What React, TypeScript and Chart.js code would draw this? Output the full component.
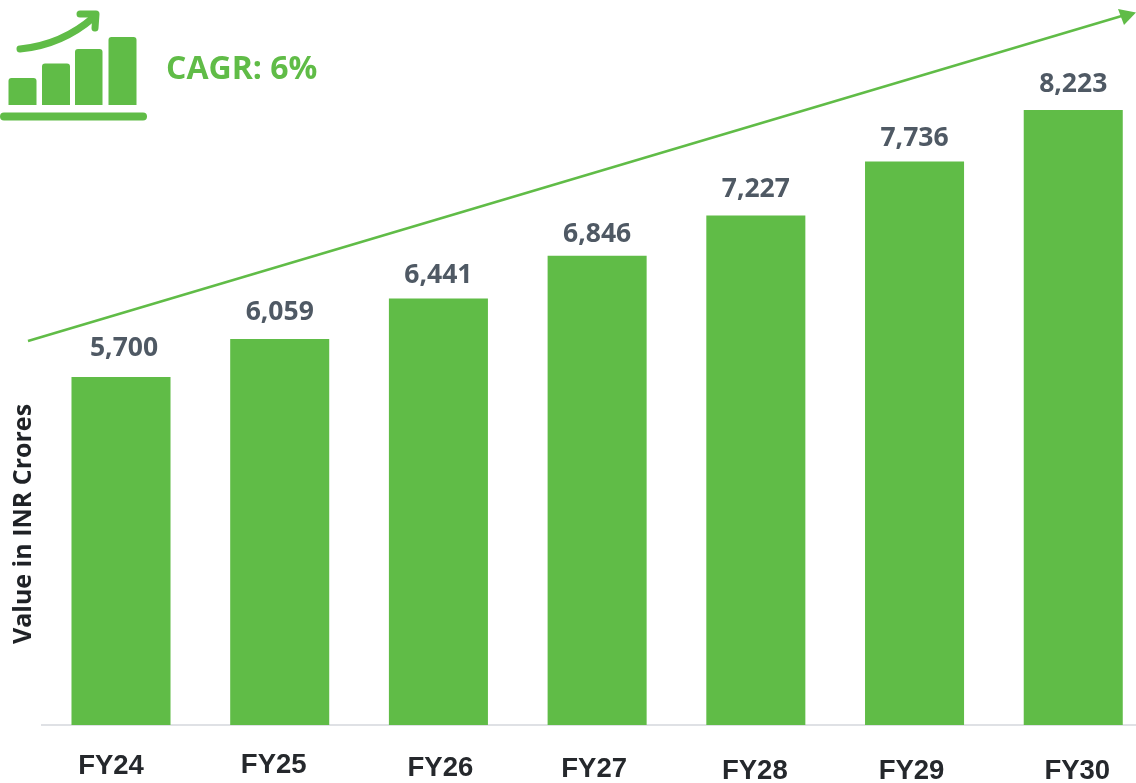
import React, { useEffect, useRef } from "react";
import { Chart, registerables } from "chart.js";

Chart.register(...registerables);

const categories = ["FY24", "FY25", "FY26", "FY27", "FY28", "FY29", "FY30"];
const values = [5700, 6059, 6441, 6846, 7227, 7736, 8223];
const tickY = [766, 765, 768, 769, 771, 771, 771];
const tickDx = [-10, -6, 2, -3, -1, -3, 4];
const valueDx = [3, 0, 0, 0, 0, 0, 0];
const valueDy = [-28, -26, -23, -21, -26, -23, -26];
const axisTitle = "Value in INR Crores";
const cagrText = "CAGR: 6%";
const GREEN = "#60bc47";
const LABEL_COLOR = "#4f5964";
const TICK_COLOR = "#25282c";

const decorPlugin = {
  id: "decor",
  afterDraw(chart: any) {
    const { ctx, scales } = chart;
    const x = scales.x;
    const y = scales.y;
    ctx.save();
    ctx.textAlign = "center";
    ctx.textBaseline = "middle";

    ctx.font = 'bold 26.5px "Open Sans"';
    ctx.fillStyle = LABEL_COLOR;
    values.forEach((v, i) => {
      ctx.fillText(v.toLocaleString("en-US"), x.getPixelForValue(i) + valueDx[i], y.getPixelForValue(v) + valueDy[i]);
    });

    ctx.font = 'bold 27.5px "Liberation Sans"';
    ctx.fillStyle = TICK_COLOR;
    categories.forEach((c, i) => {
      ctx.fillText(c, x.getPixelForValue(i) + tickDx[i], tickY[i]);
    });

    ctx.save();
    ctx.translate(24, 524);
    ctx.rotate(-Math.PI / 2);
    ctx.font = 'bold 25px "Open Sans"';
    ctx.fillStyle = "#1f2226";
    ctx.fillText(axisTitle, 0, 0);
    ctx.restore();

    ctx.textAlign = "left";
    ctx.font = 'bold 32px "Open Sans"';
    ctx.fillStyle = GREEN;
    ctx.fillText(cagrText, 166, 70);

    // Trend arrow
    ctx.strokeStyle = GREEN;
    ctx.fillStyle = GREEN;
    ctx.lineWidth = 2.5;
    ctx.beginPath();
    ctx.moveTo(28, 341);
    ctx.lineTo(1125, 15);
    ctx.stroke();
    ctx.beginPath();
    ctx.moveTo(1136, 12.5);
    ctx.lineTo(1118, 9);
    ctx.lineTo(1124, 25);
    ctx.closePath();
    ctx.fill();

    // Icon
    [[8.5, 78, 28], [42, 63.5, 28], [75, 49, 27.5], [108.5, 37, 28]].forEach(([bx, by, bw]) => {
      ctx.beginPath();
      ctx.roundRect(bx, by, bw, 105 - by, [3, 3, 0, 0]);
      ctx.fill();
    });
    ctx.beginPath();
    ctx.roundRect(0, 112.5, 147, 8, 4);
    ctx.fill();
    ctx.lineCap = "round";
    ctx.lineJoin = "round";
    ctx.lineWidth = 7;
    ctx.beginPath();
    ctx.moveTo(20, 49);
    ctx.quadraticCurveTo(62, 45, 94, 17);
    ctx.stroke();
    ctx.beginPath();
    ctx.moveTo(80, 14);
    ctx.lineTo(96, 14);
    ctx.lineTo(95, 28);
    ctx.stroke();
    ctx.restore();
  },
};

export default function App() {
  const ref = useRef<HTMLCanvasElement>(null);
  useEffect(() => {
    const chart = new Chart(ref.current!, {
      type: "bar",
      data: {
        labels: categories,
        datasets: [{ data: values, backgroundColor: GREEN, barPercentage: 0.624, categoryPercentage: 1, borderWidth: 0 }],
      },
      options: {
        animation: false,
        responsive: false,
        layout: { padding: { left: 41.65, right: 7.4, top: 0, bottom: 58 } },
        plugins: { legend: { display: false }, tooltip: { enabled: false } },
        scales: {
          x: {
            afterFit(s: any) { s.height = 0; },
            grid: { display: false },
            ticks: { display: false },
            border: { color: "#dfe1e5", width: 2 },
          },
          y: { display: false, min: 2408, max: 9264 },
        },
      },
      plugins: [decorPlugin],
    } as any);
    return () => chart.destroy();
  }, []);
  return (
    <div style={{ position: "absolute", left: 0, top: 0, width: 1136, height: 783, overflow: "hidden", background: "#fff" }}>
      <canvas ref={ref} width={1160} height={783} style={{ display: "block" }} />
    </div>
  );
}
